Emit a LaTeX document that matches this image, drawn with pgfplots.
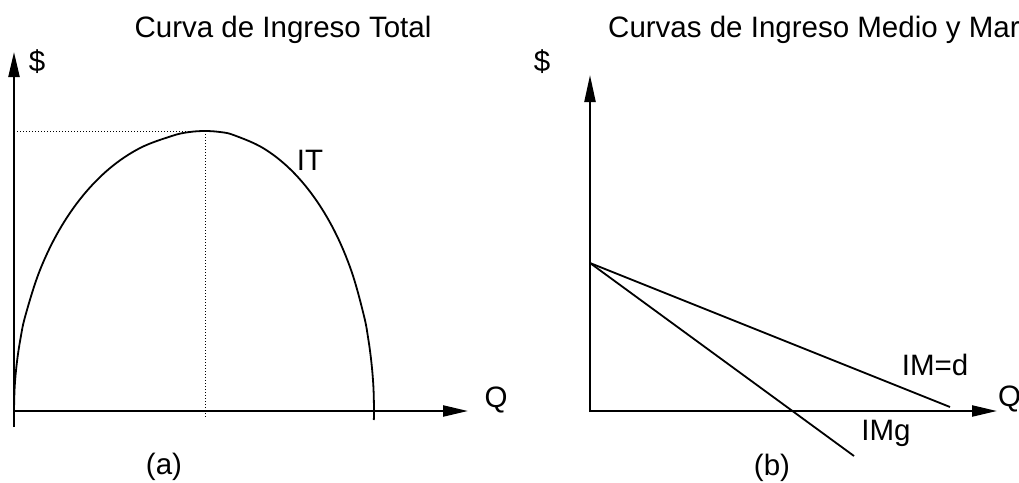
\documentclass[border=0pt]{standalone}
\usepackage{fontspec}
\setmainfont{Liberation Sans}
\usepackage{pgfplots}
\pgfplotsset{compat=1.18}
\usetikzlibrary{arrows.meta}
\tikzset{lbl/.style={font=\fontsize{29.5}{35}\selectfont, inner sep=0pt}}
\begin{document}
\begin{tikzpicture}
\begin{axis}[scale only axis, width=1019pt, height=482pt,
  xmin=0, xmax=1019, ymin=0, ymax=482, y dir=reverse,
  hide axis, clip=false]
% ---- panel (a) ----
\addplot[black, line width=2.2pt, -{Triangle[length=25pt,width=11pt]}] coordinates {(14,427) (14,52)};
\addplot[black, line width=2.2pt, -{Triangle[length=25pt,width=11pt]}] coordinates {(13,411) (468,411)};
\addplot[black, line width=1pt, dash pattern=on 1.2pt off 1.8pt] coordinates {(17,131) (205,131)};
\addplot[black, line width=1pt, dash pattern=on 1.2pt off 1.8pt] coordinates {(205,131) (205,417)};
\addplot[black, line width=1.8pt, smooth, tension=0.6] coordinates {
(14,411) (14.7,386.6) (16.9,362.4) (20.5,338.5) (25.5,315.2) (39.6,271)
(58.7,231) (82.2,196.5) (109.5,168.5) (139.7,148.2) (171.8,136) (188.3,132.2) (205,131)
(221.5,132.2) (234.3,135.3) (262.8,147.9) (289.5,168.5) (313.6,196.5) (334.5,231) (351.4,271)
(363.8,315.2) (368.2,338.5) (371.4,362.4) (373.4,386.6) (374,411) (373.8,420)};
\node[lbl, anchor=base] at (axis cs:283,37) {Curva de Ingreso Total};
\node[lbl, anchor=base] at (axis cs:37,71) {\$};
\node[lbl, anchor=base] at (axis cs:496,407) {Q};
\node[lbl, anchor=base] at (axis cs:310,170) {IT};
\node[lbl, anchor=base] at (axis cs:164,474) {(a)};
% ---- panel (b) ----
\addplot[black, line width=2.2pt, -{Triangle[length=27pt,width=11pt]}] coordinates {(590,412) (590,75)};
\addplot[black, line width=2.2pt, -{Triangle[length=25pt,width=11pt]}] coordinates {(589,411) (997,411)};
\addplot[black, line width=1.8pt] coordinates {(590,263) (950,407)};
\addplot[black, line width=1.8pt] coordinates {(590,263) (854,456)};
\node[lbl, anchor=base west] at (axis cs:608,37) {Curvas de Ingreso Medio y Marginal};
\node[lbl, anchor=base] at (axis cs:542,71) {\$};
\node[lbl, anchor=base west] at (axis cs:998,406) {Q};
\node[lbl, anchor=base] at (axis cs:935,375) {IM=d};
\node[lbl, anchor=base] at (axis cs:886,440) {IMg};
\node[lbl, anchor=base] at (axis cs:772,475) {(b)};
\end{axis}
\pgfresetboundingbox
\path[use as bounding box] (0,0) rectangle (1019pt,482pt);
\end{tikzpicture}
\end{document}
